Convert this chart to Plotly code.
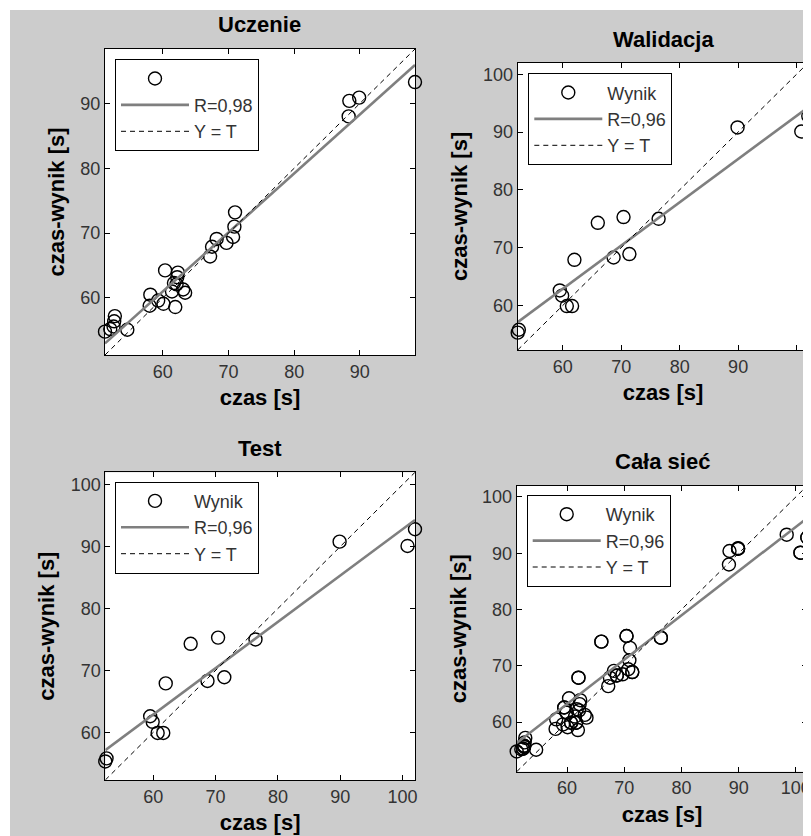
import plotly.graph_objects as go

# The page body has an 8px margin, so the figure starts at (8, 8) in the window.
OFF = 8
W, H = 811 - OFF, 836 - OFF

# ---------------- data ----------------
train_t = [51.2, 52.0, 52.5, 52.6, 52.7, 54.6,
           58.1, 58.0, 59.3, 60.1, 60.35, 61.4, 61.7, 62.1, 62.2, 62.3, 61.9, 63.1, 63.4,
           67.2, 67.5, 68.2, 69.7, 70.7, 70.9, 71.0,
           88.3, 88.4, 89.9, 98.4]
train_y = [54.8, 55.2, 55.6, 56.4, 57.2, 55.1,
           60.5, 58.8, 59.6, 59.1, 64.25, 61.0, 62.3, 62.1, 63.2, 63.9, 58.6, 61.3, 60.8,
           66.4, 67.9, 69.1, 68.5, 69.4, 71.0, 73.2,
           88.0, 90.4, 90.9, 93.3]

val_t = [52.3, 52.5, 59.5, 59.9, 60.7, 61.6, 62.0, 66.0, 70.4, 68.7, 71.4, 76.4, 89.9, 100.8, 102.0]
val_y = [55.3, 55.8, 62.6, 61.7, 59.9, 59.9, 67.9, 74.3, 75.3, 68.3, 68.9, 75.0, 90.8, 90.1, 92.8]

test_t = [52.3, 52.5, 59.5, 59.9, 60.7, 61.6, 62.0, 66.0, 70.4, 68.7, 71.4, 76.4, 89.9, 100.8, 102.0]
test_y = [55.3, 55.8, 62.6, 61.7, 59.9, 59.9, 67.9, 74.3, 75.3, 68.3, 68.9, 75.0, 90.8, 90.1, 92.8]

all_t = train_t + val_t + test_t
all_y = train_y + val_y + test_y

panel_titles = ["Uczenie", "Walidacja", "Test", "Cała sieć"]
point_labels = ["", "Wynik", "Wynik", "Wynik"]
r_labels = ["R=0,98", "R=0,96", "R=0,96", "R=0,96"]
fit_slopes = [0.91, 0.748, 0.748, 0.787]
fit_intercepts = [6.4, 18.0, 18.0, 16.0]
axis_ranges = [[51.2, 98.4], [52.3, 102.0], [52.3, 102.0], [51.2, 102.0]]
tick_values = [[60, 70, 80, 90], [60, 70, 80, 90, 100], [60, 70, 80, 90, 100], [60, 70, 80, 90, 100]]
x_title = "czas [s]"
y_title = "czas-wynik [s]"

panel_t = [train_t, val_t, test_t, all_t]
panel_y = [train_y, val_y, test_y, all_y]

# ---------------- layout (window pixel boxes) ----------------
plot_boxes = [(105, 49, 415, 355), (517.7, 62.7, 808.3, 350),
              (105.3, 472.3, 415, 780), (516.7, 485.7, 807.3, 771.7)]
title_pos = [(260, 25), (663, 40), (260, 448), (662, 461)]
legend_pos = [(115, 59.3), (528.3, 73.3), (115, 481.7), (526.7, 495)]


def px(x):
    return (x - OFF) / W


def py(y):
    return 1 - (y - OFF) / H


FONT = "Liberation Sans, Arial, sans-serif"
fig = go.Figure()
layout = dict(
    width=W, height=H,
    margin=dict(l=0, r=0, t=0, b=0),
    paper_bgcolor="#cccccc",
    plot_bgcolor="white",
    font=dict(family=FONT, color="black"),
    showlegend=True,
    annotations=[],
    shapes=[
        dict(type="rect", xref="paper", yref="paper", x0=0, x1=1, y0=py(10), y1=1,
             fillcolor="white", line=dict(width=0), layer="below"),
        dict(type="rect", xref="paper", yref="paper", x0=0, x1=px(10), y0=0, y1=1,
             fillcolor="white", line=dict(width=0), layer="below"),
    ],
)

for i in range(4):
    n = "" if i == 0 else str(i + 1)
    xa, ya = "x" + n, "y" + n
    leg = "legend" if i == 0 else "legend" + str(i + 1)
    x0, y0, x1, y1 = plot_boxes[i]
    rng = axis_ranges[i]

    fig.add_trace(go.Scatter(
        x=panel_t[i], y=panel_y[i], mode="markers", name=point_labels[i],
        marker=dict(symbol="circle-open", size=13, color="black", line=dict(width=1.4)),
        cliponaxis=False, xaxis=xa, yaxis=ya, legend=leg))
    fx = rng
    fy = [fit_slopes[i] * v + fit_intercepts[i] for v in fx]
    fig.add_trace(go.Scatter(
        x=fx, y=fy, mode="lines", name=r_labels[i],
        line=dict(color="#7f7f7f", width=2.6), xaxis=xa, yaxis=ya, legend=leg))
    fig.add_trace(go.Scatter(
        x=rng, y=rng, mode="lines", name="Y = T",
        line=dict(color="black", width=1, dash="5px,4px"), xaxis=xa, yaxis=ya, legend=leg))

    axis_common = dict(
        range=rng, tickvals=tick_values[i], showgrid=False, zeroline=False,
        showline=True, linecolor="black", linewidth=1, mirror="ticks",
        ticks="inside", ticklen=5, tickcolor="black",
        tickfont=dict(size=18, color="#333333", family=FONT),
        automargin=False,
    )
    layout["xaxis" + n] = dict(axis_common,
                               domain=[px(x0), px(x1)], anchor=ya,
                               title=dict(text=x_title, standoff=9,
                                          font=dict(size=22, weight="bold", family=FONT)))
    layout["yaxis" + n] = dict(axis_common,
                               domain=[py(y1), py(y0)], anchor=xa,
                               title=dict(text=y_title, standoff=9,
                                          font=dict(size=22, weight="bold", family=FONT)))
    lx, ly = legend_pos[i]
    layout[leg] = dict(x=px(lx), y=py(ly), xanchor="left", yanchor="top",
                       bgcolor="white", bordercolor="black", borderwidth=1,
                       font=dict(size=18, color="#333333", family=FONT),
                       tracegroupgap=0, itemwidth=68)
    tx, ty = title_pos[i]
    layout["annotations"].append(dict(
        text=panel_titles[i], x=px(tx), y=py(ty), xref="paper", yref="paper",
        xanchor="center", yanchor="middle", showarrow=False,
        font=dict(size=22, weight="bold", family=FONT, color="black")))

fig.update_layout(**layout)
fig.write_html("out.html")
